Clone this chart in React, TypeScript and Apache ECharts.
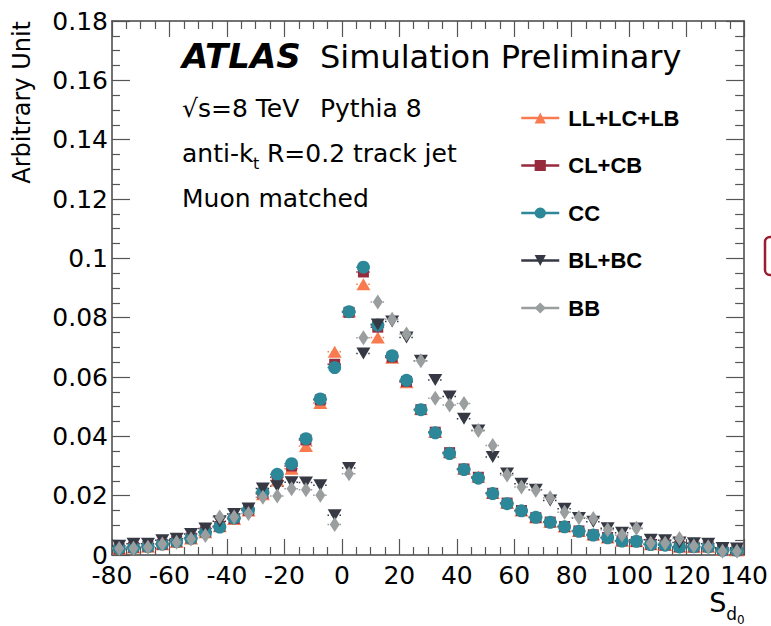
import React, { useEffect, useRef } from "react";
import * as echarts from "echarts";

// Bin centres of S_d0 (5-unit bins)
const binCenters = [
  -77.5, -72.5, -67.5, -62.5, -57.5, -52.5, -47.5, -42.5, -37.5, -32.5,
  -27.5, -22.5, -17.5, -12.5, -7.5, -2.5, 2.5, 7.5, 12.5, 17.5,
  22.5, 27.5, 32.5, 37.5, 42.5, 47.5, 52.5, 57.5, 62.5, 67.5,
  72.5, 77.5, 82.5, 87.5, 92.5, 97.5, 102.5, 107.5, 112.5, 117.5,
  122.5, 127.5, 132.5, 137.5,
];

const seriesNames = ["LL+LC+LB", "CL+CB", "CC", "BL+BC", "BB"];

const llValues = [
  0.0022, 0.0025, 0.0028, 0.0036, 0.0044, 0.0056, 0.0077, 0.0097, 0.0121, 0.0150,
  0.0205, 0.0251, 0.0291, 0.0367, 0.0512, 0.0685, 0.0822, 0.0913, 0.0733, 0.0665,
  0.0582, 0.0492, 0.0415, 0.0346, 0.0291, 0.0264, 0.0209, 0.0176, 0.0150, 0.0127,
  0.0112, 0.0096, 0.0081, 0.0069, 0.0059, 0.0048, 0.0047, 0.0036, 0.0034, 0.0028,
  0.0028, 0.0028, 0.0017, 0.0016,
];
const clValues = [
  0.0021, 0.0026, 0.0029, 0.0036, 0.0046, 0.0057, 0.0078, 0.0096, 0.0123, 0.0151,
  0.0208, 0.0262, 0.0300, 0.0388, 0.0523, 0.0643, 0.0818, 0.0954, 0.0768, 0.0667,
  0.0585, 0.0490, 0.0414, 0.0345, 0.0290, 0.0262, 0.0208, 0.0175, 0.0150, 0.0126,
  0.0111, 0.0096, 0.0081, 0.0068, 0.0059, 0.0048, 0.0045, 0.0036, 0.0034, 0.0028,
  0.0027, 0.0028, 0.0017, 0.0016,
];
const ccValues = [
  0.0022, 0.0025, 0.0028, 0.0037, 0.0045, 0.0056, 0.0076, 0.0094, 0.0125, 0.0152,
  0.0212, 0.0272, 0.0308, 0.0392, 0.0526, 0.0632, 0.0820, 0.0970, 0.0775, 0.0672,
  0.0589, 0.0490, 0.0412, 0.0342, 0.0288, 0.0259, 0.0207, 0.0173, 0.0149, 0.0127,
  0.0110, 0.0095, 0.0080, 0.0067, 0.0058, 0.0047, 0.0046, 0.0035, 0.0033, 0.0027,
  0.0028, 0.0027, 0.0016, 0.0016,
];
const blValues = [
  0.0031, 0.0038, 0.0038, 0.0050, 0.0055, 0.0071, 0.0089, 0.0114, 0.0138, 0.0157,
  0.0224, 0.0232, 0.0245, 0.0244, 0.0235, 0.0134, 0.0293, 0.0679, 0.0777, 0.0787,
  0.0733, 0.0655, 0.0590, 0.0534, 0.0459, 0.0420, 0.0330, 0.0275, 0.0240, 0.0220,
  0.0184, 0.0156, 0.0125, 0.0112, 0.0090, 0.0075, 0.0089, 0.0051, 0.0050, 0.0042,
  0.0040, 0.0038, 0.0024, 0.0022,
];
const bbValues = [
  0.0022, 0.0023, 0.0026, 0.0037, 0.0043, 0.0054, 0.0066, 0.0128, 0.0128, 0.0140,
  0.0195, 0.0199, 0.0223, 0.0220, 0.0201, 0.0103, 0.0274, 0.0732, 0.0853, 0.0795,
  0.0745, 0.0655, 0.0528, 0.0506, 0.0511, 0.0420, 0.0369, 0.0270, 0.0229, 0.0218,
  0.0193, 0.0144, 0.0126, 0.0123, 0.0085, 0.0067, 0.0090, 0.0040, 0.0040, 0.0056,
  0.0030, 0.0028, 0.0013, 0.0013,
];

const halfBin = 2.5;

const colors = ["#f97a4f", "#962b3d", "#2c8798", "#363944", "#9a9e9e"];
const symbols = ["triangle", "rect", "circle", "triangle", "diamond"];
const symbolSizes: any[] = [[14, 12], 11, 13, [14, 12], [10, 15]];
const symbolRotates = [0, 0, 0, 180, 0];
const allValues = [llValues, clValues, ccValues, blValues, bbValues];

const FONT = "DejaVu Sans";

export default function App() {
  const ref = useRef<HTMLDivElement>(null);

  useEffect(() => {
    document.body.style.margin = "0";
    const chart = echarts.init(ref.current as HTMLDivElement, undefined, { renderer: "svg" });

    const series: any[] = [];
    allValues.forEach((vals, i) => {
      const data = binCenters.map((x, j) => [x, vals[j]]);
      series.push({
        type: "custom",
        name: seriesNames[i] + " err",
        data,
        silent: true,
        renderItem: (params: any, api: any) => {
          const x = api.value(0);
          const y = api.value(1);
          const p1 = api.coord([x - halfBin, y]);
          const p2 = api.coord([x + halfBin, y]);
          return {
            type: "line",
            shape: { x1: p1[0], y1: p1[1], x2: p2[0], y2: p2[1] },
            style: { stroke: colors[i], lineWidth: 1.5, lineDash: [1.5, 2.5] },
          };
        },
      });
      series.push({
        type: "line",
        name: seriesNames[i],
        data,
        symbol: symbols[i],
        symbolSize: symbolSizes[i],
        symbolRotate: symbolRotates[i],
        showSymbol: true,
        showAllSymbol: true,
        itemStyle: { color: colors[i], opacity: 1 },
        lineStyle: { color: colors[i], width: 0, opacity: 0 },
        emphasis: { disabled: true },
      });
    });

    const axisLineStyle = { color: "#444", width: 1.5 };
    const tickStyle = { color: "#555", width: 1.2 };

    const option: any = {
      animation: false,
      backgroundColor: "#ffffff",
      grid: { left: 112, right: 24, top: 21, bottom: 70 },
      xAxis: [
        {
          type: "value",
          min: -80,
          max: 140,
          interval: 20,
          position: "bottom",
          name: "{s|S}{d|d}{z|0}",
          nameLocation: "end",
          nameGap: -35,
          nameMoveOverlap: false,
          nameTextStyle: {
            align: "left",
            verticalAlign: "top",
            padding: [34, 0, 0, 0],
            rich: {
              s: { fontFamily: FONT, fontSize: 27, lineHeight: 27, verticalAlign: "top", color: "#000" },
              d: { fontFamily: FONT, fontSize: 17, lineHeight: 17, verticalAlign: "top", padding: [16, 0, 0, 0], color: "#000" },
              z: { fontFamily: FONT, fontSize: 12, lineHeight: 12, verticalAlign: "top", padding: [25, 0, 0, 0], color: "#000" },
            },
          },
          axisLine: { show: true, onZero: false, lineStyle: axisLineStyle },
          axisTick: { show: true, inside: true, length: 16, lineStyle: tickStyle },
          minorTick: { show: true, splitNumber: 4, length: 8, lineStyle: tickStyle },
          splitLine: { show: false },
          minorSplitLine: { show: false },
          axisLabel: { fontFamily: FONT, fontSize: 25, color: "#000", margin: 8 },
        },
        {
          type: "value",
          min: -80,
          max: 140,
          interval: 20,
          position: "top",
          axisLine: { show: true, onZero: false, lineStyle: axisLineStyle },
          axisTick: { show: true, inside: true, length: 16, lineStyle: tickStyle },
          minorTick: { show: true, splitNumber: 4, length: 8, lineStyle: tickStyle },
          splitLine: { show: false },
          axisLabel: { show: false },
        },
      ],
      yAxis: [
        {
          type: "value",
          min: 0,
          max: 0.18,
          interval: 0.02,
          position: "left",
          name: "Arbitrary Unit",
          nameLocation: "end",
          nameRotate: 90,
          nameGap: 0,
          nameMoveOverlap: false,
          nameTextStyle: {
            fontFamily: FONT,
            fontSize: 24,
            color: "#000",
            align: "right",
            verticalAlign: "bottom",
            padding: [0, 0, 78, 0],
          },
          axisLine: { show: true, onZero: false, lineStyle: axisLineStyle },
          axisTick: { show: true, inside: true, length: 18, lineStyle: tickStyle },
          minorTick: { show: true, splitNumber: 4, length: 8, lineStyle: tickStyle },
          splitLine: { show: false },
          minorSplitLine: { show: false },
          axisLabel: { fontFamily: FONT, fontSize: 25, color: "#000", margin: 4 },
        },
        {
          type: "value",
          min: 0,
          max: 0.18,
          interval: 0.02,
          position: "right",
          axisLine: { show: true, onZero: false, lineStyle: axisLineStyle },
          axisTick: { show: true, inside: true, length: 18, lineStyle: tickStyle },
          minorTick: { show: true, splitNumber: 4, length: 9, lineStyle: tickStyle },
          splitLine: { show: false },
          axisLabel: { show: false },
        },
      ],
      legend: {
        orient: "vertical",
        left: 520,
        top: 107,
        padding: 0,
        itemWidth: 38,
        itemHeight: 14,
        itemGap: 25.5,
        data: seriesNames,
        selectedMode: false,
        lineStyle: { width: 2.5, opacity: 1 },
        textStyle: {
          fontFamily: "Liberation Sans",
          fontWeight: "bold",
          fontSize: 22,
          lineHeight: 22,
          color: "#000",
          padding: [0, 0, 0, 4],
        },
      },
      graphic: [
        {
          type: "text",
          x: 182,
          y: 68 - 0.35 * 34,
          style: {
            text: "ATLAS",
            fontFamily: FONT,
            fontSize: 34,
            fontWeight: "bold",
            fontStyle: "italic",
            fill: "#000",
            align: "left",
            verticalAlign: "middle",
          },
        },
        {
          type: "text",
          x: 320,
          y: 68 - 0.35 * 32,
          style: {
            text: "Simulation Preliminary",
            fontFamily: FONT,
            fontSize: 32,
            fill: "#000",
            align: "left",
            verticalAlign: "middle",
          },
        },
        {
          type: "text",
          x: 182,
          y: 117 - 0.35 * 25,
          style: {
            text: "√s=8 TeV",
            fontFamily: FONT,
            fontSize: 25,
            fill: "#000",
            align: "left",
            verticalAlign: "middle",
          },
        },
        {
          type: "text",
          x: 320,
          y: 117 - 0.35 * 25,
          style: {
            text: "Pythia 8",
            fontFamily: FONT,
            fontSize: 25,
            fill: "#000",
            align: "left",
            verticalAlign: "middle",
          },
        },
        {
          type: "text",
          x: 182,
          y: 162 - 0.35 * 25,
          style: {
            text: "anti-k",
            fontFamily: FONT,
            fontSize: 25,
            fill: "#000",
            align: "left",
            verticalAlign: "middle",
          },
        },
        {
          type: "text",
          x: 253,
          y: 169 - 0.35 * 16,
          style: {
            text: "t",
            fontFamily: FONT,
            fontSize: 16,
            fill: "#000",
            align: "left",
            verticalAlign: "middle",
          },
        },
        {
          type: "text",
          x: 267,
          y: 162 - 0.35 * 25,
          style: {
            text: "R=0.2 track jet",
            fontFamily: FONT,
            fontSize: 25,
            fill: "#000",
            align: "left",
            verticalAlign: "middle",
          },
        },
        {
          type: "text",
          x: 182,
          y: 207 - 0.35 * 25,
          style: {
            text: "Muon matched",
            fontFamily: FONT,
            fontSize: 25,
            fill: "#000",
            align: "left",
            verticalAlign: "middle",
          },
        },
        {
          type: "rect",
          shape: { x: 765, y: 237, width: 20, height: 38, r: 5 },
          style: { fill: "#ffffff", stroke: "#9c1c2e", lineWidth: 2.5 },
        },
      ],
      series,
    };

    chart.setOption(option);
    return () => chart.dispose();
  }, []);

  return <div ref={ref} style={{ width: 771, height: 626 }} />;
}
